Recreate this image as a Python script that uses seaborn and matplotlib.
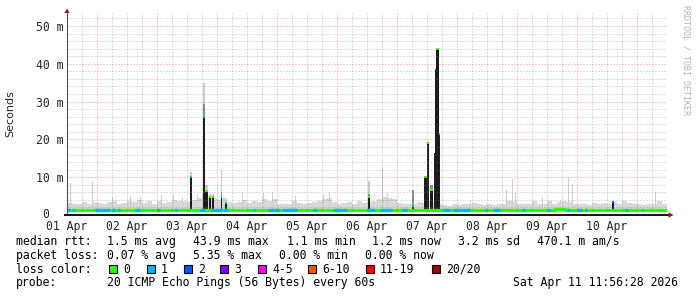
import matplotlib
matplotlib.use("Agg")
import matplotlib.pyplot as plt
from matplotlib.patches import Rectangle, Polygon
from matplotlib.transforms import ScaledTranslation
import numpy as np
import pandas as pd
import seaborn as sns

# ---------------- data ----------------
day_labels = ["01 Apr", "02 Apr", "03 Apr", "04 Apr", "05 Apr",
              "06 Apr", "07 Apr", "08 Apr", "09 Apr", "10 Apr"]
y_tick_values = [0, 10, 20, 30, 40, 50]
y_tick_labels = ["0", "10 m", "20 m", "30 m", "40 m", "50 m"]

# smoke (ping spread) upper envelope, ms, 2-hour bins over 10 days
smoke_top_ms = [
    3.2, 3.0, 2.8, 3.4, 3.0, 3.5, 3.2, 2.8, 3.4, 3.8, 3.0, 3.3,
    3.8, 3.5, 4.0, 3.2, 3.6, 3.0, 3.8, 3.2, 3.5, 4.0, 3.6, 3.8,
    3.5, 4.0, 4.5, 5.5, 5.0, 4.5, 4.0, 4.5, 3.5, 3.2, 3.5, 4.0,
    3.2, 3.6, 3.4, 4.2, 3.8, 4.2, 3.0, 2.8, 3.0, 3.8, 3.2, 3.0,
    3.2, 3.5, 3.8, 4.2, 4.5, 3.5, 3.0, 3.2, 3.4, 2.8, 3.6, 3.2,
    3.5, 3.8, 4.2, 4.8, 4.5, 4.2, 3.2, 2.8, 2.8, 3.0, 3.5, 3.2,
    4.0, 3.5, 2.8, 2.6, 2.5, 2.8, 2.6, 2.9, 2.8, 3.2, 2.8, 2.6,
    2.8, 2.6, 2.8, 3.0, 3.8, 3.5, 2.8, 3.0, 2.8, 3.6, 3.0, 2.9,
    3.6, 3.0, 3.4, 3.8, 3.5, 2.8, 3.0, 2.8, 2.7, 3.2, 2.8, 3.2,
    3.0, 3.5, 2.8, 3.6, 3.2, 2.8, 3.0, 2.7, 3.0, 2.8, 3.8, 2.8,
]

# isolated thin smoke peaks (time in days, ms)
peak_day = [0.05, 0.43, 0.75, 1.05, 1.22, 1.58, 1.77, 1.92, 2.18, 2.93, 3.27, 3.42,
            3.80, 4.27, 4.38, 5.25, 5.35, 6.72, 7.33, 7.42, 7.47, 7.93, 8.22, 8.35,
            8.42, 9.80]
peak_ms = [8.4, 8.8, 4.8, 5.0, 4.8, 5.2, 5.6, 4.8, 5.2, 5.8, 5.8, 6.0,
           5.0, 5.5, 6.0, 12.4, 5.7, 4.0, 6.5, 9.6, 5.8, 4.6, 4.0, 9.7,
           8.2, 6.0]

# median rtt (ms), piecewise constant between change points (days)
median_change_days = [0.0, 8.13, 8.30, 10.0]
median_ms = [1.3, 1.6, 1.3, 1.3]

# periods where 1 of 20 pings was lost (days)
loss1_start = [0.00, 0.08, 0.47, 0.75, 0.83, 1.13, 1.50, 1.80, 2.22, 2.38, 2.60,
               3.10, 3.35, 3.58, 4.10, 4.43, 5.00, 5.22, 5.58, 5.77, 6.27, 6.43,
               6.97, 7.10, 7.58, 8.00, 8.33, 8.50, 8.63, 9.30, 9.58]
loss1_end = [0.05, 0.13, 0.72, 0.80, 0.88, 1.22, 1.55, 1.83, 2.30, 2.58, 2.68,
             3.13, 3.55, 3.83, 4.17, 4.67, 5.13, 5.42, 5.67, 5.79, 6.38, 6.72,
             7.00, 7.22, 7.63, 8.05, 8.38, 8.58, 8.67, 9.35, 9.60]

# latency spikes: time span (days), dense / mid / light smoke tops (ms), loss class of median
spike_start = [2.050, 2.267, 2.300, 2.367, 2.417, 2.567, 2.633, 5.017, 5.750,
               5.950, 6.000, 6.050, 6.117, 6.140, 6.158, 6.200, 9.083]
spike_end = [2.083, 2.300, 2.350, 2.400, 2.450, 2.590, 2.667, 5.050, 5.783,
             6.000, 6.033, 6.100, 6.140, 6.158, 6.200, 6.217, 9.117]
spike_dark_ms = [10.1, 26.0, 6.3, 4.8, 4.8, 4.8, 3.1, 4.7, 2.5,
                 10.0, 19.0, 6.6, 16.3, 38.6, 44.0, 21.4, 3.4]
spike_mid_ms = [10.1, 29.5, 6.3, 4.8, 4.8, 6.0, 3.1, 5.5, 6.6,
                10.0, 19.0, 7.9, 16.3, 38.6, 44.0, 21.4, 3.4]
spike_light_ms = [11.5, 35.0, 8.0, 5.5, 5.5, 11.8, 4.0, 9.0, 6.6,
                  10.0, 19.0, 7.9, 16.3, 38.6, 44.0, 21.4, 3.4]
spike_loss = [1, 1, 0, 0, 0, 1, 1, 0, 1,
              0, 0, 0, -1, 1, 0, 0, 2]

loss_classes = ["0", "1", "2", "3", "4-5", "6-10", "11-19", "20/20"]
loss_colors = ["#26ff00", "#00b8ff", "#0059ff", "#7e00ff",
               "#ff00ff", "#ff5500", "#ff0000", "#a10000"]

rtt_stats = ["1.5 ms avg", "43.9 ms max", "1.1 ms min", "1.2 ms now", "3.2 ms sd", "470.1 m am/s"]
loss_stats = ["0.07 % avg", "5.35 % max", "0.00 % min", "0.00 % now"]
probe_text = "20 ICMP Echo Pings (56 Bytes) every 60s"
stamp_text = "Sat Apr 11 11:56:28 2026"

# ---------------- style ----------------
sns.set_style("white")
plt.rcParams["font.family"] = ["DejaVu Sans Mono", "DejaVu Sans"]
MONO = "DejaVu Sans Mono"
FS = 8.3

W, H = 697, 297
fig = plt.figure(figsize=(W / 100, H / 100), dpi=100)
ax_left, ax_right, ax_bottom, ax_top = 67, 667, 215, 12.8
ax = fig.add_axes([ax_left / W, (H - ax_bottom) / H,
                   (ax_right - ax_left) / W, (ax_bottom - ax_top) / H])
ax.set_xlim(0, 10)
ax.set_ylim(0, 53.5)
for s in ax.spines.values():
    s.set_visible(False)

SMOKE = "#d8d8d8"
# smoke
n = len(smoke_top_ms)
edges = np.linspace(0, 10, n + 1)
ax.stairs(smoke_top_ms, edges, baseline=1.0, fill=True, color=SMOKE, lw=0, zorder=1)
ax.bar(peak_day, np.array(peak_ms) - 1.0, bottom=1.0, width=1 / 60, align="center",
       color="#cecece", lw=0, zorder=1.5)

# spikes
for st, en, dk, md, lt, ls in zip(spike_start, spike_end, spike_dark_ms,
                                  spike_mid_ms, spike_light_ms, spike_loss):
    w = en - st
    ax.bar(st, lt - 1.0, bottom=1.0, width=w, align="edge", color="#cccccc", lw=0, zorder=2)
    ax.bar(st, md - 1.0, bottom=1.0, width=w, align="edge", color="#8c8c8c", lw=0, zorder=3)
    ax.bar(st, dk - 1.0, bottom=1.0, width=w, align="edge", color="#1c1c1c", lw=0, zorder=4)
    if ls >= 0:
        ax.bar(st, 0.55, bottom=dk - 0.3, width=w, align="edge",
               color=loss_colors[ls], lw=0, zorder=5)

# median line (loss 0 = green)
df_med = pd.DataFrame({"t": median_change_days, "ms": median_ms})
sns.lineplot(data=df_med, x="t", y="ms", ax=ax, color=loss_colors[0], lw=2.4,
             drawstyle="steps-post", estimator=None, legend=False, zorder=6,
             solid_capstyle="butt")
for a, b in zip(loss1_start, loss1_end):
    idx = np.searchsorted(median_change_days, a, side="right") - 1
    ax.hlines(median_ms[idx], a, b, color=loss_colors[1], lw=2.4, zorder=7)

# grid
minor_kw = dict(color="#808080", alpha=0.5, lw=0.72, ls=(0, (1, 2)), zorder=8)
major_kw = dict(color="#ff0000", alpha=0.42, lw=0.72, ls=(0, (1, 2)), zorder=8)
for q in np.arange(0.25, 10.0, 0.25):
    if abs((q % 1) - 0.5) < 1e-6:
        ax.axvline(q, **major_kw)
    else:
        ax.axvline(q, **minor_kw)
for v in np.arange(2, 53, 2):
    if v % 10 == 0:
        ax.axhline(v, **major_kw)
    else:
        ax.axhline(v, **minor_kw)

# ticks
ax.set_xticks(range(len(day_labels)))
ax.set_xticklabels(day_labels, fontfamily=MONO, fontsize=FS)
ax.set_yticks(y_tick_values)
ax.set_yticklabels(y_tick_labels, fontfamily=MONO, fontsize=FS)
ax.tick_params(axis="both", length=0)
ax.tick_params(axis="x", pad=3.5)
ax.tick_params(axis="y", pad=2.2)
ax.set_xlabel("")
ax.set_ylabel("")
zero_lab = ax.get_yticklabels()[0]
zero_lab.set_transform(zero_lab.get_transform() +
                       ScaledTranslation(-15 / 100, 1.5 / 100, fig.dpi_scale_trans))

# axes lines
ax.plot([0, 0], [0, 53.5], color="#505050", lw=0.8, clip_on=False, zorder=9)
ax.plot([-0.05, 10.03], [0, 0], color="black", lw=1.3, clip_on=False, zorder=9,
        solid_capstyle="butt")

# overlay in pixel coordinates for texts / arrows / legend
ov = fig.add_axes([0, 0, 1, 1], facecolor="none")
ov.set_xlim(0, W)
ov.set_ylim(H, 0)
ov.axis("off")
arrow_c = "#9a1b1b"
ov.add_patch(Polygon([(64.3, 13), (67, 8.5), (69.7, 13)], closed=True, color=arrow_c, lw=0))
ov.add_patch(Polygon([(668.5, 212.3), (673.5, 215), (668.5, 217.7)], closed=True, color=arrow_c, lw=0))

ov.text(10, 113.5, "Seconds", rotation=90, ha="center", va="center",
        fontfamily="DejaVu Sans", fontsize=8)
ov.text(686, 5, "RRDTOOL / TOBI OETIKER", rotation=270, ha="center", va="top",
        fontfamily=MONO, fontsize=6, color="#b4b4b4")

tkw = dict(fontfamily=MONO, fontsize=FS, va="center", ha="left", color="black")
y1, y2, y3, y4 = 241.5, 255.2, 269.2, 282.8
ov.text(16, y1, "median rtt:", **tkw)
for x, s in zip([107, 193, 287, 372, 458, 537], rtt_stats):
    ov.text(x, y1, s, **tkw)
ov.text(16, y2, "packet loss:", **tkw)
for x, s in zip([107, 193, 279, 365], loss_stats):
    ov.text(x, y2, s, **tkw)
ov.text(16, y3, "loss color:", **tkw)
for x, lab, col in zip([108, 146, 183, 219, 257, 307, 365, 431], loss_classes, loss_colors):
    ov.add_patch(Rectangle((x + 0.5, y3 - 4.2), 8.2, 8.2, facecolor=col,
                           edgecolor="black", lw=0.8))
    ov.text(x + 15, y3, lab, **tkw)
ov.text(16, y4, "probe:", **tkw)
ov.text(107, y4, probe_text, **tkw)
ov.text(513, y4, stamp_text, **tkw)

fig.savefig("out.png", dpi=100)
